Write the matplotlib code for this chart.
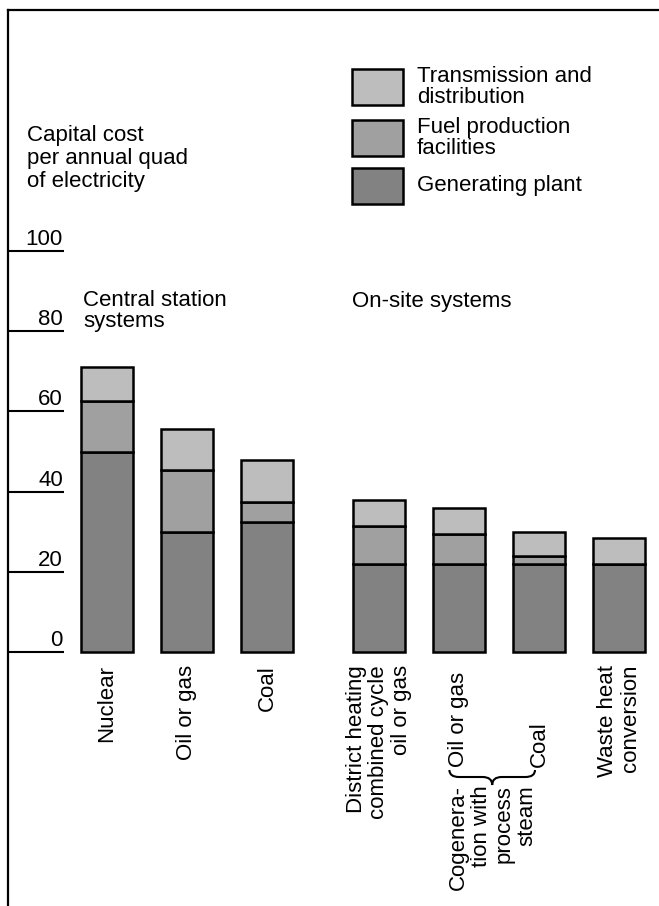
import matplotlib
matplotlib.use("Agg")
import matplotlib.pyplot as plt
from matplotlib.patches import Rectangle, PathPatch
from matplotlib.path import Path

plt.rcParams['font.family'] = ['Liberation Sans', 'DejaVu Sans']
plt.rcParams['font.size'] = 16

# data
labels = ["Nuclear", "Oil or gas", "Coal",
          "District heating\ncombined cycle\noil or gas",
          "Oil or gas", "Coal", "Waste heat\nconversion"]
positions = [0, 1, 2, 3.4, 4.4, 5.4, 6.4]
generating = [50, 30, 32.5, 22, 22, 22, 22]
fuel = [12.5, 15.5, 5, 9.5, 7.5, 2, 0]
transmission = [8.5, 10, 10.5, 6.5, 6.5, 6, 6.5]
yticks = [0, 20, 40, 60, 80, 100]

series_names = ["Transmission and\ndistribution", "Fuel production\nfacilities", "Generating plant"]
colors = ["#bdbdbd", "#a0a0a0", "#828282"]

W, H = 659, 906
fig = plt.figure(figsize=(W / 100, H / 100), dpi=100)

def fx(px):
    return px / W

def fy(py):
    return 1 - py / H

# axes: left spine at x=8px, top spine at y=10px, 0 at y=652px, 100 at y=251px
xl, xr = -1.2375, 6.9
y0px, ppu = 652, 4.01
ax = fig.add_axes([fx(8), 0, fx(W) - fx(8), fy(10)])
ax.set_xlim(xl, xr)
ax.set_ylim((y0px - H) / ppu, (y0px - 10) / ppu)
for s in ["right", "bottom"]:
    ax.spines[s].set_visible(False)
for s in ["left", "top"]:
    ax.spines[s].set_linewidth(1.6)
ax.set_xticks([])
ax.set_yticks([])

def dy(py):
    return (y0px - py) / ppu

# tick lines + numbers
ax.hlines(yticks, xl, (64 - 107) / 80, color="black", lw=1.5)
for v in yticks:
    ax.text((63 - 107) / 80, v + 1.5, str(v), ha="right", va="baseline")

w = 0.65
kw = dict(width=w, edgecolor="black", linewidth=1.8)
ax.bar(positions, generating, color=colors[2], **kw)
ax.bar(positions, fuel, bottom=generating, color=colors[1], **kw)
bottoms = [g + f for g, f in zip(generating, fuel)]
ax.bar(positions, transmission, bottom=bottoms, color=colors[0], **kw)

# category labels
for i, (p, lab) in enumerate(zip(positions, labels)):
    if i in (4, 5):
        ax.text(p, dy(767), lab, rotation=90, ha="center", va="bottom",
                multialignment="left", linespacing=1.12)
    else:
        ax.text(p, dy(665), lab, rotation=90, ha="center", va="top",
                multialignment="right", linespacing=1.12)

# brace grouping the two cogeneration bars
x0 = positions[4] - 0.12
x1 = positions[5] - 0.05
xc = (x0 + x1) / 2
yt, ym, yb = dy(770), dy(777), dy(785)
r = 0.12
verts = [(x0, yt), (x0, ym), (x0 + r, ym), (xc - r, ym), (xc, ym), (xc, yb),
         (xc, ym), (xc + r, ym), (x1 - r, ym), (x1, ym), (x1, yt)]
codes = [Path.MOVETO, Path.CURVE3, Path.CURVE3, Path.LINETO, Path.CURVE3, Path.CURVE3,
         Path.CURVE3, Path.CURVE3, Path.LINETO, Path.CURVE3, Path.CURVE3]
ax.add_patch(PathPatch(Path(verts, codes), fill=False, lw=1.5, clip_on=False))
ax.text((positions[4] + positions[5]) / 2 - 0.08, dy(785), "Cogenera-\ntion with\nprocess\nsteam",
        rotation=90, ha="center", va="top", multialignment="right", linespacing=1.12)

# headings (va='baseline' pins the last line)
fig.text(fx(27), fy(187), "Capital cost\nper annual quad\nof electricity",
         ha="left", va="baseline", linespacing=1.12)
fig.text(fx(83), fy(327), "Central station\nsystems", ha="left", va="baseline", linespacing=0.97)
fig.text(fx(352), fy(307), "On-site systems", ha="left", va="baseline")

# legend
box_tops = [69, 120, 168]
for top, name, c in zip(box_tops, series_names, colors):
    fig.add_artist(Rectangle((fx(352), fy(top + 36)), fx(51), 36 / H,
                             facecolor=c, edgecolor="black", lw=1.8,
                             transform=fig.transFigure))
    fig.text(fx(417), fy(top + 18), name, ha="left", va="center", linespacing=1.06)

fig.savefig("out.png", dpi=100)
